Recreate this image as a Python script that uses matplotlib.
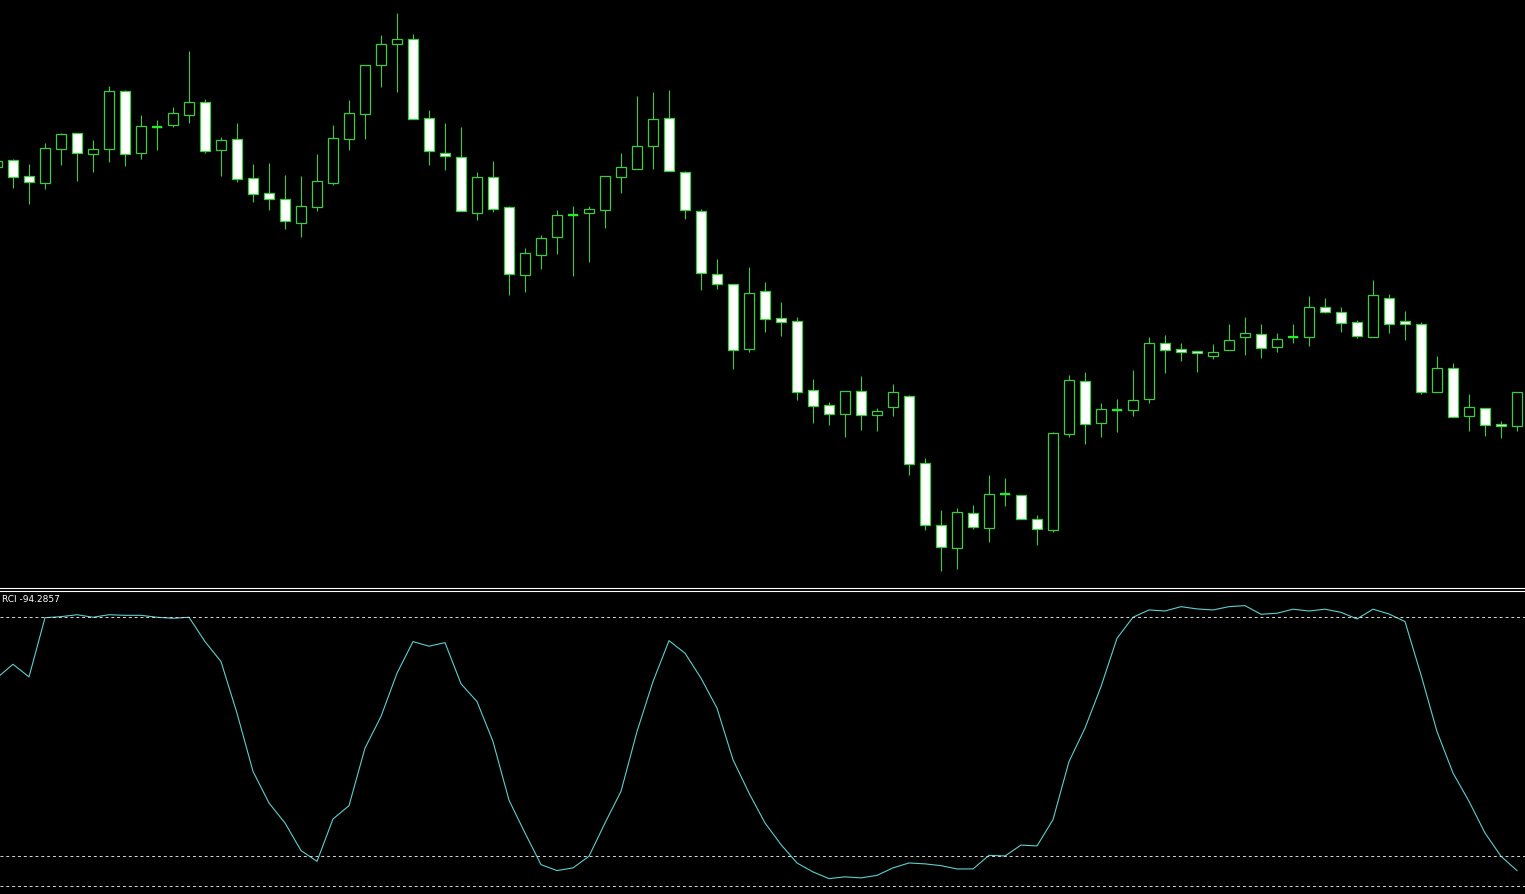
"""
plot.py
-------
MT4-style price chart: green/white candlesticks on black with an RCI
sub-window underneath (levels at +80, -80 and -100).
"""

import numpy as np
import matplotlib
matplotlib.use("Agg")
import matplotlib.pyplot as plt
from matplotlib.lines import Line2D

# ---- price data (one entry per bar, bar -1 is cut off at the left edge) ----
bar_idx = list(range(-1, 95))

opens = [421, 428, 412, 405, 439, 455, 434, 439, 497, 435, 461, 463, 473, 486, 438, 449,
         410, 395, 389, 365, 381, 405, 449, 474, 523, 544, 549, 470, 435, 431, 375, 411,
         381, 313, 333, 351, 373, 375, 378, 411, 419, 442, 470, 416, 377, 314, 304, 239,
         297, 270, 267, 198, 183, 174, 197, 173, 181, 192, 125, 63, 40, 75, 60, 94,
         93, 69, 58, 154, 207, 165, 178, 178, 189, 245, 239, 237, 232, 238, 251, 254,
         241, 251, 251, 281, 276, 266, 251, 290, 267, 264, 196, 220, 172, 180, 164, 162]
highs = [430, 429, 424, 445, 455, 455, 448, 502, 498, 473, 468, 481, 537, 489, 451, 465,
         424, 425, 413, 412, 434, 463, 488, 523, 553, 575, 554, 478, 465, 461, 416, 427,
         382, 340, 353, 378, 382, 382, 412, 435, 492, 496, 498, 417, 379, 329, 304, 321,
         306, 286, 271, 209, 186, 197, 212, 180, 204, 193, 130, 78, 80, 83, 113, 110,
         93, 73, 156, 213, 216, 185, 189, 218, 251, 253, 245, 237, 244, 264, 271, 264,
         255, 264, 292, 290, 281, 268, 308, 294, 277, 266, 232, 225, 194, 180, 167, 196]
lows = [418, 400, 384, 399, 423, 407, 416, 426, 422, 429, 438, 461, 465, 435, 412, 406,
        386, 378, 359, 351, 377, 403, 438, 449, 501, 496, 469, 423, 418, 377, 368, 376,
        293, 296, 319, 334, 312, 326, 360, 395, 419, 419, 417, 369, 298, 299, 219, 236,
        256, 252, 188, 165, 163, 151, 158, 157, 172, 113, 58, 17, 19, 59, 46, 82,
        69, 43, 56, 151, 144, 151, 156, 172, 185, 215, 227, 216, 229, 238, 233, 230,
        236, 245, 242, 275, 256, 250, 251, 255, 248, 194, 196, 171, 157, 152, 150, 157]
closes = [427, 411, 406, 440, 454, 435, 439, 497, 434, 462, 461, 475, 486, 437, 448, 409,
          394, 389, 367, 382, 407, 450, 475, 523, 544, 549, 469, 437, 432, 377, 411, 379,
          314, 335, 350, 373, 373, 379, 412, 421, 442, 469, 417, 378, 315, 304, 238, 295,
          269, 266, 196, 182, 174, 197, 173, 177, 196, 124, 63, 41, 76, 61, 94, 94,
          69, 59, 155, 208, 164, 179, 178, 188, 245, 238, 236, 235, 236, 248, 255, 240,
          249, 251, 281, 276, 265, 252, 293, 264, 264, 196, 220, 171, 181, 163, 162, 196]

# ---- RCI values, same bars ----
rci = [39.4, 48.5, 40.0, 79.7, 80.4, 81.7, 80.0, 81.7, 81.3, 81.3, 80.0, 79.3, 80.0,
       63.7, 50.3, 15.7, -23.3, -44.5, -57.9, -76.4, -83.6, -55.2, -46.3, -7.7, 13.5,
       42.5, 63.7, 60.6, 63.0, 35.4, 23.5, -3.3, -42.6, -64.6, -85.8, -89.8, -88.0,
       -80.2, -57.9, -36.7, 3.4, 36.9, 64.3, 55.9, 39.2, 19.1, -15.5, -37.8, -57.9,
       -72.4, -84.7, -90.7, -95.2, -94.0, -94.7, -93.0, -88.0, -84.7, -85.3, -86.5,
       -88.7, -88.7, -79.6, -80.0, -72.7, -73.3, -55.7, -16.7, 5.7, 33.5, 65.9, 80.0,
       84.9, 84.2, 87.1, 85.6, 84.9, 87.1, 87.8, 82.0, 82.7, 85.4, 84.2, 85.4, 83.3,
       78.9, 85.4, 82.2, 77.1, 41.4, 3.4, -24.4, -43.4, -64.6, -80.2, -89.8]
rci_levels = [80, -80, -100]
rci_label = "RCI -94.2857"

W, H = 1525, 894
CANDLE = "#3ccc3c"
DOJI = "#22ee22"
RCI_COLOR = "#5ccfcf"
LEVEL_COLOR = "#d8d8d8"

fig = plt.figure(figsize=(W / 100, H / 100), dpi=100, facecolor="black")

# main window occupies pixel rows 0..588, RCI window 591..894
ax = fig.add_axes([0, 1 - 588 / H, 1, 588 / H], facecolor="black")
ax2 = fig.add_axes([0, 0, 1, 303 / H], facecolor="black")

x = np.array(bar_idx, dtype=float)
o = np.array(opens, dtype=float)
h = np.array(highs, dtype=float)
l = np.array(lows, dtype=float)
c = np.array(closes, dtype=float)

body_top = np.maximum(o, c)
body_bot = np.minimum(o, c)
bull = c > o

# wicks outside the body only
ax.vlines(x, body_top, h, color=CANDLE, lw=0.8)
ax.vlines(x, l, body_bot, color=CANDLE, lw=0.8)

width = 0.64
fills = np.where(bull, "black", "white")
ax.bar(x, body_top - body_bot, bottom=body_bot, width=width,
       color=fills, edgecolor=CANDLE, linewidth=0.9, zorder=3)

# doji bars: open == close, drawn as a flat line
doji = body_top == body_bot
ax.hlines(body_top[doji], x[doji] - width / 2, x[doji] + width / 2,
          color=DOJI, lw=1.6, zorder=4)

ax.set_xlim(-13 / 16, (W - 13) / 16)
ax.set_ylim(0, 588)
ax.axis("off")

# RCI window
ax2.plot(x, rci, color=RCI_COLOR, lw=0.8)
for lv in rci_levels:
    ax2.axhline(lv, color=LEVEL_COLOR, lw=0.7, dashes=(3, 3))
ax2.set_xlim(-13 / 16, (W - 13) / 16)
ax2.set_ylim(-105.5, 97.6)
ax2.axis("off")
ax2.text(2 / W, 1 - 9 / 303, rci_label, transform=ax2.transAxes,
         color="white", fontsize=6.5, family="DejaVu Sans",
         ha="left", va="center")

# double separator between the two windows
for yy in (588.3, 590.5):
    fig.add_artist(Line2D([0, 1], [1 - yy / H, 1 - yy / H],
                          transform=fig.transFigure, color="white", lw=0.8))

fig.savefig("out.png", dpi=100, facecolor="black")
